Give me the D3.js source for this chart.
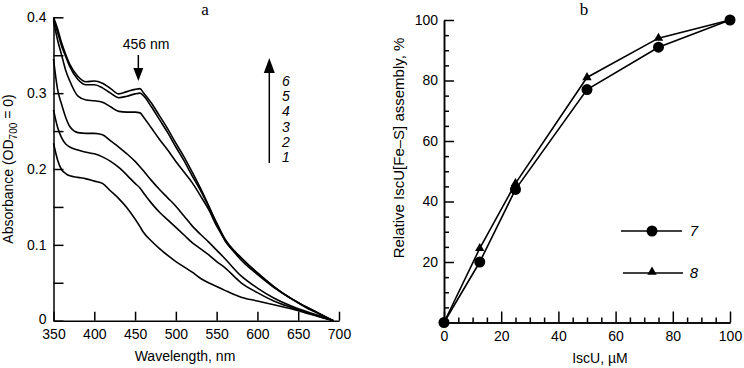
<!DOCTYPE html>
<html>
<head>
<meta charset="utf-8">
<script src="https://cdn.jsdelivr.net/npm/d3@7"></script>
<style>
	body { margin: 0; background: #fff; }
	svg { display: block; font-family: Arial, "Liberation Sans", sans-serif; }
	.axis path, .axis line { stroke: #000; stroke-width: 1.5; }
	.axis text { font-size: 14px; fill: #000; font-family: Arial, "Liberation Sans", sans-serif; }
</style>
</head>
<body>
<div id="chart"></div>
<script>

// panel a : absorbance spectra, curves 1..6
var wavelengths = [350, 355, 360, 365, 370, 380, 390, 400, 410, 420, 430, 440, 450, 456, 460, 470,
	480, 490, 500, 510, 520, 530, 540, 550, 560, 580, 600, 620, 640, 660, 680, 693];
var curve1 = [0.234, 0.212, 0.199, 0.194, 0.191, 0.189, 0.187, 0.184, 0.181, 0.171, 0.161, 0.149, 0.134, 0.124, 0.117, 0.105,
	0.095, 0.086, 0.078, 0.071, 0.064, 0.056, 0.050, 0.045, 0.040, 0.031, 0.026, 0.021, 0.016, 0.010, 0.004, 0];
var curve2 = [0.278, 0.255, 0.241, 0.233, 0.229, 0.225, 0.222, 0.220, 0.216, 0.210, 0.202, 0.192, 0.181, 0.175, 0.169, 0.155,
	0.143, 0.133, 0.123, 0.113, 0.103, 0.095, 0.087, 0.078, 0.070, 0.050, 0.037, 0.026, 0.018, 0.011, 0.004, 0];
var curve3 = [0.345, 0.305, 0.285, 0.268, 0.256, 0.248, 0.247, 0.247, 0.245, 0.237, 0.229, 0.220, 0.210, 0.203, 0.198, 0.185,
	0.173, 0.162, 0.151, 0.138, 0.125, 0.114, 0.104, 0.093, 0.082, 0.059, 0.043, 0.030, 0.020, 0.012, 0.005, 0];
var curve4 = [0.395, 0.370, 0.350, 0.330, 0.316, 0.296, 0.291, 0.290, 0.288, 0.282, 0.276, 0.275, 0.275, 0.274, 0.269, 0.254,
	0.239, 0.225, 0.210, 0.196, 0.182, 0.165, 0.147, 0.125, 0.107, 0.080, 0.061, 0.044, 0.030, 0.017, 0.007, 0];
var curve5 = [0.398, 0.380, 0.362, 0.348, 0.335, 0.318, 0.311, 0.311, 0.307, 0.300, 0.294, 0.296, 0.299, 0.300, 0.297, 0.282,
	0.265, 0.248, 0.229, 0.211, 0.191, 0.172, 0.151, 0.129, 0.108, 0.083, 0.063, 0.045, 0.030, 0.018, 0.007, 0];
var curve6 = [0.400, 0.385, 0.366, 0.351, 0.338, 0.322, 0.315, 0.316, 0.313, 0.306, 0.299, 0.302, 0.305, 0.306, 0.301, 0.287,
	0.270, 0.253, 0.234, 0.216, 0.196, 0.175, 0.152, 0.128, 0.106, 0.083, 0.063, 0.045, 0.030, 0.018, 0.007, 0];
var curveLabels = ["1", "2", "3", "4", "5", "6"];
var wlTicks = [350, 400, 450, 500, 550, 600, 650, 700];
var absTicks = [0, 0.05, 0.1, 0.15, 0.2, 0.25, 0.3, 0.35, 0.4];

// panel b : relative assembly vs IscU
var iscU = [0, 12.5, 25, 50, 75, 100];
var series7 = [0, 20, 44, 77, 91, 100];
var series8 = [0, 24.5, 46, 81, 94, 100];

var w = 744;
var h = 368;

var svg = d3.select("#chart")
	.append("svg")
	.attr("width", w)
	.attr("height", h);

/********************************************************************
* Panel a
*********************************************************************/
var xA = d3.scaleLinear().domain([350, 700]).range([53.5, 339]);
var yA = d3.scaleLinear().domain([0, 0.4]).range([320.7, 17.3]);

svg.append("g")
	.attr("class", "axis")
	.attr("transform", "translate(0," + yA(0) + ")")
	.call(d3.axisBottom(xA).tickValues(wlTicks).tickSizeInner(-9).tickSizeOuter(0).tickPadding(8));

var yAxisA = svg.append("g")
	.attr("class", "axis")
	.attr("transform", "translate(" + xA(350) + ",0)")
	.call(d3.axisLeft(yA).tickValues(absTicks).tickSizeInner(-10).tickSizeOuter(0).tickPadding(7)
		.tickFormat(function(d){
			var k = Math.round(d * 100);
			if (k % 10 != 0) return "";
			return k == 0 ? "0" : d3.format(".1f")(d);
		}));
// lift the zero a touch so it clears the 350 label
yAxisA.selectAll(".tick text").filter(function(d){ return d == 0; }).attr("dy", "0.2em");

var spectra = [curve1, curve2, curve3, curve4, curve5, curve6];
var lineA = d3.line()
	.x(function(d, i){ return xA(wavelengths[i]); })
	.y(function(d){ return yA(d); })
	.curve(d3.curveMonotoneX);

svg.append("g")
	.selectAll("path")
	.data(spectra)
	.enter()
	.append("path")
	.attr("d", lineA)
	.attr("fill", "none")
	.attr("stroke", "#000")
	.attr("stroke-width", 1.6);

svg.append("text")
	.attr("x", 205).attr("y", 15)
	.attr("text-anchor", "middle")
	.style("font-family", "'Liberation Serif', 'Times New Roman', serif")
	.style("font-size", "17px")
	.text("a");

// 456 nm marker
svg.append("text")
	.attr("x", 146).attr("y", 49)
	.attr("text-anchor", "middle")
	.style("font-size", "14px")
	.text("456 nm");
svg.append("line")
	.attr("x1", xA(454)).attr("x2", xA(454))
	.attr("y1", 55).attr("y2", 70)
	.attr("stroke", "#000").attr("stroke-width", 1.5);
svg.append("path")
	.attr("d", "M" + (xA(454) - 5) + ",68L" + (xA(454) + 5) + ",68L" + xA(454) + ",81Z")
	.attr("fill", "#000");

// order arrow with curve numbers
var ax = 269.3;
svg.append("line")
	.attr("x1", ax).attr("x2", ax)
	.attr("y1", 163).attr("y2", 70)
	.attr("stroke", "#000").attr("stroke-width", 1.5);
svg.append("path")
	.attr("d", "M" + (ax - 5.5) + ",73L" + (ax + 5.5) + ",73L" + ax + ",58Z")
	.attr("fill", "#000");

svg.append("g")
	.selectAll("text")
	.data(curveLabels)
	.enter()
	.append("text")
	.attr("x", 286)
	.attr("y", function(d, i){ return 162 - i * 15.2; })
	.attr("text-anchor", "middle")
	.style("font-size", "14px")
	.style("font-style", "italic")
	.text(function(d){ return d; });

var yLabA = svg.append("text")
	.attr("transform", "translate(13,169) rotate(-90)")
	.attr("text-anchor", "middle")
	.style("font-size", "14px");
yLabA.append("tspan").text("Absorbance (OD");
yLabA.append("tspan").attr("dy", 4).style("font-size", "10px").text("700");
yLabA.append("tspan").attr("dy", -4).text(" = 0)");

svg.append("text")
	.attr("x", 185).attr("y", 361)
	.attr("text-anchor", "middle")
	.style("font-size", "14px")
	.text("Wavelength, nm");

/********************************************************************
* Panel b
*********************************************************************/
var xB = d3.scaleLinear().domain([0, 100]).range([444, 730]);
var yB = d3.scaleLinear().domain([0, 100]).range([322.5, 20]);

var minor = d3.range(5, 100, 5).filter(function(d){ return d % 20 != 0; });

svg.append("g")
	.attr("class", "axis")
	.attr("transform", "translate(0," + yB(0) + ")")
	.call(d3.axisBottom(xB).tickValues(minor).tickSizeInner(-5).tickSizeOuter(0).tickFormat(""));
svg.append("g")
	.attr("class", "axis")
	.attr("transform", "translate(0," + yB(0) + ")")
	.call(d3.axisBottom(xB).tickValues([0, 20, 40, 60, 80, 100]).tickSizeInner(-11).tickSizeOuter(0).tickPadding(9));

svg.append("g")
	.attr("class", "axis")
	.attr("transform", "translate(" + xB(0) + ",0)")
	.call(d3.axisLeft(yB).tickValues(minor).tickSizeInner(-5).tickSizeOuter(0).tickFormat(""));
svg.append("g")
	.attr("class", "axis")
	.attr("transform", "translate(" + xB(0) + ",0)")
	.call(d3.axisLeft(yB).tickValues([20, 40, 60, 80, 100]).tickSizeInner(-10).tickSizeOuter(0).tickPadding(6));

var lineB = d3.line()
	.x(function(d, i){ return xB(iscU[i]); })
	.y(function(d){ return yB(d); });

svg.append("path")
	.attr("d", lineB(series8))
	.attr("fill", "none").attr("stroke", "#000").attr("stroke-width", 1.6);
svg.append("path")
	.attr("d", lineB(series7))
	.attr("fill", "none").attr("stroke", "#000").attr("stroke-width", 1.6);

var tri = d3.symbol().type(d3.symbolTriangle).size(38);

svg.append("g")
	.selectAll("path")
	.data(series8)
	.enter()
	.append("path")
	.attr("d", tri)
	.attr("transform", function(d, i){ return "translate(" + xB(iscU[i]) + "," + yB(d) + ")"; })
	.attr("fill", "#000");

svg.append("g")
	.selectAll("circle")
	.data(series7)
	.enter()
	.append("circle")
	.attr("cx", function(d, i){ return xB(iscU[i]); })
	.attr("cy", function(d){ return yB(d); })
	.attr("r", 5.5)
	.attr("fill", "#000");

// legend
svg.append("line").attr("x1", 621).attr("x2", 682).attr("y1", 231).attr("y2", 231)
	.attr("stroke", "#000").attr("stroke-width", 1.6);
svg.append("circle").attr("cx", 652).attr("cy", 231).attr("r", 5.5).attr("fill", "#000");
svg.append("line").attr("x1", 623).attr("x2", 683).attr("y1", 273).attr("y2", 273)
	.attr("stroke", "#000").attr("stroke-width", 1.6);
svg.append("path").attr("d", tri).attr("transform", "translate(652,272)").attr("fill", "#000");

svg.append("text").attr("x", 694).attr("y", 236)
	.attr("text-anchor", "middle")
	.style("font-size", "15px").style("font-style", "italic")
	.text("7");
svg.append("text").attr("x", 694).attr("y", 278)
	.attr("text-anchor", "middle")
	.style("font-size", "15px").style("font-style", "italic")
	.text("8");

svg.append("text")
	.attr("x", 584).attr("y", 15)
	.attr("text-anchor", "middle")
	.style("font-family", "'Liberation Serif', 'Times New Roman', serif")
	.style("font-size", "17px")
	.text("b");

svg.append("text")
	.attr("transform", "translate(404,148) rotate(-90)")
	.attr("text-anchor", "middle")
	.style("font-size", "15px")
	.text("Relative IscU[Fe\u2013S] assembly, %");

svg.append("text")
	.attr("x", 600).attr("y", 363)
	.attr("text-anchor", "middle")
	.style("font-size", "14px")
	.text("IscU, \u00b5M");

</script>
</body>
</html>
